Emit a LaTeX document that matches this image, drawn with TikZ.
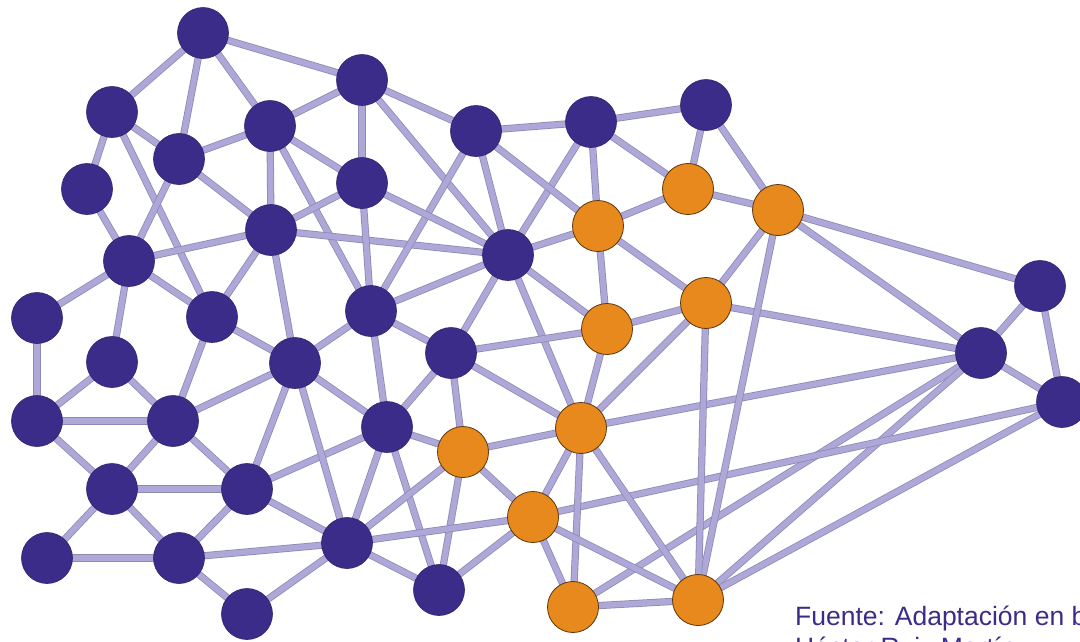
\documentclass[tikz,border=0pt]{standalone}
\usepackage{fontspec}
\setmainfont{Liberation Sans}
\definecolor{nodepurple}{HTML}{3B2C8A}
\definecolor{nodeorange}{HTML}{E8891E}
\definecolor{edgefill}{HTML}{ADA8D8}
\definecolor{edgerim}{HTML}{8E8AB4}
\definecolor{textpurple}{HTML}{3B2C8A}
\pgfdeclarelayer{background}
\pgfsetlayers{background,main}
\tikzset{
  pn/.style={circle, fill=nodepurple, draw=nodepurple!80!black, line width=0.6pt, minimum size=51pt, inner sep=0pt},
  on/.style={circle, fill=nodeorange, draw=nodeorange!40!black, line width=0.8pt, minimum size=51pt, inner sep=0pt},
  edge/.style={draw=edgerim, double=edgefill, line width=0.8pt, double distance=5.6pt},
  caption/.style={text=textpurple, font=\fontsize{26.5}{31}\selectfont, anchor=base west, inner sep=0pt}
}
\begin{document}
\begin{tikzpicture}[x=1pt,y=-1pt]
\useasboundingbox (0,0) rectangle (1080,641);
\clip (0,0) rectangle (1080,641);
% purple nodes
\node[pn] (p1) at (203,33) {};
\node[pn] (p2) at (362,80) {};
\node[pn] (p3) at (112,112) {};
\node[pn] (p4) at (270,126) {};
\node[pn] (p5) at (179,159) {};
\node[pn] (p6) at (87,189) {};
\node[pn] (p7) at (362,183) {};
\node[pn] (p8) at (476,131) {};
\node[pn] (p9) at (591,122) {};
\node[pn] (p10) at (706,105) {};
\node[pn] (p11) at (271,230) {};
\node[pn] (p12) at (129,261) {};
\node[pn] (p13) at (508,255) {};
\node[pn] (p14) at (37,318) {};
\node[pn] (p15) at (212,317) {};
\node[pn] (p16) at (371,311) {};
\node[pn] (p17) at (112,362) {};
\node[pn] (p18) at (295,363) {};
\node[pn] (p19) at (451,353) {};
\node[pn] (p20) at (37,421) {};
\node[pn] (p21) at (173,421) {};
\node[pn] (p22) at (387,427) {};
\node[pn] (p23) at (112,489) {};
\node[pn] (p24) at (247,489) {};
\node[pn] (p25) at (47,558) {};
\node[pn] (p26) at (179,558) {};
\node[pn] (p27) at (347,543) {};
\node[pn] (p28) at (247,614) {};
\node[pn] (p29) at (439,590) {};
\node[pn] (p30) at (1040,286) {};
\node[pn] (p31) at (981,353) {};
\node[pn] (p32) at (1062,402) {};
% orange nodes
\node[on] (o1) at (688,189) {};
\node[on] (o2) at (778,210) {};
\node[on] (o3) at (598,226) {};
\node[on] (o4) at (706,303) {};
\node[on] (o5) at (607,329) {};
\node[on] (o6) at (581,428) {};
\node[on] (o7) at (463,452) {};
\node[on] (o8) at (533,517) {};
\node[on] (o9) at (573,607) {};
\node[on] (o10) at (698,600) {};
% edges
\begin{pgfonlayer}{background}
\fill[white] (0,0) rectangle (1080,641);
\foreach \a/\b in {
  p1/p3, p1/p5, p1/p4, p1/p2,
  p3/p5, p3/p6, p3/p15,
  p5/p4, p5/p12, p5/p11,
  p4/p11, p4/p2, p4/p7, p4/p16,
  p11/p7, p11/p13, p11/p12, p11/p15, p11/p18,
  p6/p12, p12/p14, p12/p17, p12/p15,
  p2/p7, p2/p8, p2/p13,
  p8/p9, p8/p13, p8/p16,
  p9/p10, p9/p13,
  p7/p13, p7/p16,
  p16/p13, p13/p19,
  p16/p19, p16/p22, p16/p18,
  p19/p22,
  p14/p20, p17/p20, p17/p21, p20/p21, p20/p23,
  p21/p15, p21/p18, p21/p23, p21/p24,
  p15/p18, p23/p24, p23/p25, p23/p26, p25/p26, p26/p24, p26/p27, p26/p28, p28/p27,
  p24/p18, p24/p27, p24/p22, p18/p27, p18/p22,
  p22/p27, p22/p29, p27/p29,
  p30/p31, p30/p32, p31/p32,
  p8/o3, p9/o3, p9/o1, p10/o1, p10/o2, o3/p13, p13/o5, p13/o6,
  p19/o5, p19/o6, p19/o7, p22/o7, o7/p27, o7/p29, o8/p27, o8/p29,
  o2/p30, o2/p31, o4/p31, o6/p31, o9/p31, o10/p31, o8/p32, o10/p32,
  o1/o2, o1/o3, o3/o4, o3/o5, o4/o2, o4/o5, o4/o6, o5/o6, o6/o7, o6/o8,
  o6/o9, o6/o10, o7/o8, o8/o9, o8/o10, o9/o10, o2/o10, o4/o10}
  \draw[edge] (\a.center) -- (\b.center);
\end{pgfonlayer}
% caption
\node[caption] (t1) at (795,625) {Fuente: Adaptación en base a};
\node[caption] (t2) at (795,656) {Héctor Ruiz Martín};
\end{tikzpicture}
\end{document}
